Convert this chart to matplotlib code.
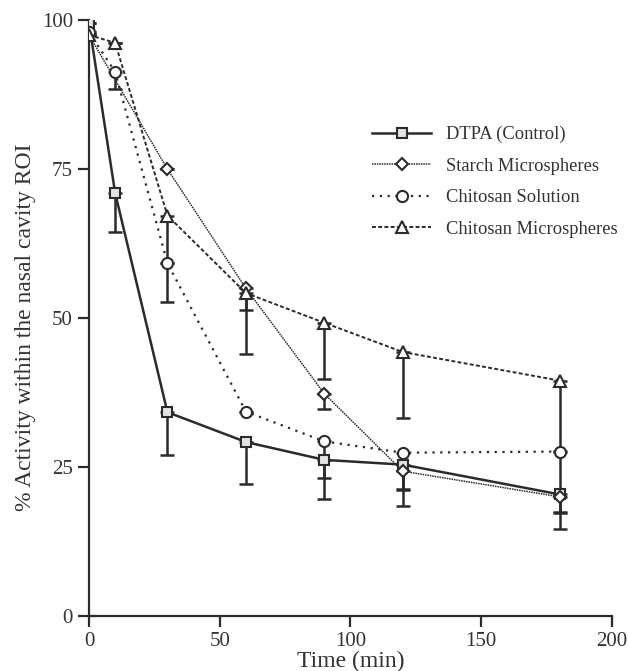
import matplotlib.pyplot as plt

plt.rcParams['font.family'] = ['Liberation Serif', 'DejaVu Serif']

# time points (min)
t_dtpa = [0, 10, 30, 60, 90, 120, 180]
t_starch = [0, 30, 60, 90, 120, 180]
t_sol = [0, 10, 30, 60, 90, 120, 180]
t_micro = [0, 10, 30, 60, 90, 120, 180]

# mean % activity
dtpa = [99.5, 71.0, 34.2, 29.2, 26.2, 25.4, 20.4]
starch = [97.5, 75.0, 55.0, 37.3, 24.3, 20.0]
sol = [98.0, 91.3, 59.2, 34.3, 29.3, 27.4, 27.6]
micro = [97.5, 96.2, 67.2, 54.2, 49.2, 44.3, 39.5]

# lower error (SD drawn downward only)
dtpa_err = [0, 6.5, 7.1, 7.0, 6.5, 7.0, 5.8]
starch_err = [0, 0, 11.0, 2.6, 3.0, 2.8]
sol_err = [0, 2.8, 6.5, 0, 6.2, 6.2, 10.2]
micro_err = [0, 0, 8.0, 2.8, 9.5, 11.0, 11.8]

labels = ['DTPA (Control)', 'Starch Microspheres', 'Chitosan Solution',
          'Chitosan Microspheres']

ink = '#2b2b2b'
fig = plt.figure(figsize=(6.28, 6.71), dpi=100)
ax = fig.add_axes([0.1417, 0.082, 0.8328, 0.888])

def draw(t, y, err, ls, lw, marker, ms, face, label):
    zeros = [0] * len(err)
    ax.errorbar(t, y, yerr=[err, zeros], fmt='none', ecolor=ink,
                elinewidth=1.8, capsize=5, capthick=1.8, zorder=2)
    ax.plot(t, y, linestyle=ls, color=ink, lw=lw, marker=marker,
            markersize=ms, markerfacecolor=face, markeredgecolor=ink,
            markeredgewidth=1.5, label=label, zorder=3)

draw(t_dtpa, dtpa, dtpa_err, '-', 1.8, 's', 7.5, '#e3e3e3', labels[0])
draw(t_starch, starch, starch_err, (0, (1, 0.6)), 1.1, 'D', 6.5, 'white', labels[1])
draw(t_sol, sol, sol_err, (0, (1, 2.5)), 1.6, 'o', 8, 'white', labels[2])
draw(t_micro, micro, micro_err, (0, (2, 1.2)), 1.4, '^', 9, 'white', labels[3])

ax.set_xlim(0, 200)
ax.set_ylim(0, 100)
ax.set_xticks([0, 50, 100, 150, 200])
ax.set_yticks([0, 25, 50, 75, 100])
ax.spines['top'].set_visible(False)
ax.spines['right'].set_visible(False)
for s in ['left', 'bottom']:
    ax.spines[s].set_linewidth(1.6)
    ax.spines[s].set_color(ink)
ax.tick_params(direction='out', length=8, width=1.6, color=ink,
               labelsize=15, labelcolor='#333333')
ax.set_xlabel('Time (min)', fontsize=17, color='#333333', labelpad=0)
ax.set_ylabel('% Activity within the nasal cavity ROI', fontsize=17,
              color='#333333')
ax.yaxis.set_label_coords(-0.102, 0.485)

ax.legend(loc='upper left', bbox_to_anchor=(0.51, 0.85), frameon=False,
          fontsize=13.3, handlelength=3.2, handletextpad=0.8,
          labelspacing=0.78, labelcolor='#333333')

fig.savefig('out.png', dpi=100)
